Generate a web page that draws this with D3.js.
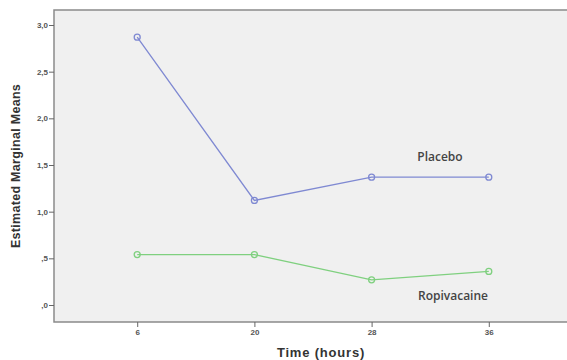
<!DOCTYPE html>
<html>
<head>
<meta charset="utf-8">
<script src="https://cdn.jsdelivr.net/npm/d3@7"></script>
<style>
body { margin: 0; background: #fff; }
.axis text { font-family: "Liberation Sans", Arial, sans-serif; font-size: 8px; font-weight: bold; fill: #555; }
.axis path, .axis line { stroke: #666; }
</style>
</head>
<body>
<script>
// data
let times = ['6', '20', '28', '36'];
let placebo = [2.87, 1.12, 1.37, 1.37];
let ropivacaine = [0.54, 0.54, 0.27, 0.36];
let yTicks = [0, 0.5, 1.0, 1.5, 2.0, 2.5, 3.0];
let seriesNames = ['Placebo', 'Ropivacaine'];

let frame = { width: 567, height: 360 };
let plot = { left: 54, top: 10, right: 572, bottom: 322 };

let svg = d3.select('body')
	.append('svg')
	.attr('width', frame.width)
	.attr('height', frame.height);

let xScale = d3.scalePoint()
	.domain(times)
	.range([plot.left, plot.right])
	.padding(0.71);

let yScale = d3.scaleLinear()
	.domain([0, 3])
	.range([305, 25]);

// plot background
svg.append('rect')
	.attr('x', plot.left)
	.attr('y', plot.top)
	.attr('width', plot.right - plot.left)
	.attr('height', plot.bottom - plot.top)
	.attr('fill', '#f0f0f0')
	.attr('stroke', '#8a8a8a')
	.attr('stroke-width', 1.5);

let fmt = d => {
	let s = d3.format('.1f')(d).replace('.', ',');
	return s.startsWith('0') ? s.slice(1) : s;
};

let yAxis = d3.axisLeft(yScale)
	.tickValues(yTicks)
	.tickFormat(fmt)
	.tickSize(5)
	.tickPadding(1);

svg.append('g')
	.attr('class', 'axis')
	.attr('transform', `translate(${plot.left}, 0)`)
	.call(yAxis)
	.call(g => g.select('.domain').remove());

let xAxis = d3.axisBottom(xScale)
	.tickSize(5)
	.tickPadding(2);

svg.append('g')
	.attr('class', 'axis')
	.attr('transform', `translate(0, ${plot.bottom})`)
	.call(xAxis)
	.call(g => g.select('.domain').remove());

// lines and markers
let line = d3.line()
	.x((d, i) => xScale(times[i]))
	.y(d => yScale(d));

let series = [
	{ name: seriesNames[0], values: placebo, color: '#7f89d2', label: [440, 161] },
	{ name: seriesNames[1], values: ropivacaine, color: '#7fd07f', label: [453, 300] }
];

series.forEach(s => {
	svg.append('path')
		.datum(s.values)
		.attr('d', line)
		.attr('fill', 'none')
		.attr('stroke', s.color)
		.attr('stroke-width', 1.3);

	svg.selectAll('.pt-' + s.name)
		.data(s.values)
		.enter()
		.append('circle')
		.attr('cx', (d, i) => xScale(times[i]))
		.attr('cy', d => yScale(d))
		.attr('r', 3)
		.attr('fill', 'none')
		.attr('stroke', s.color)
		.attr('stroke-width', 1.3);

	svg.append('text')
		.attr('x', s.label[0])
		.attr('y', s.label[1])
		.attr('text-anchor', 'middle')
		.attr('font-family', '"Open Sans", sans-serif')
		.attr('font-size', 12)
		.attr('font-weight', 600)
		.attr('fill', '#444')
		.text(s.name);
});

// axis titles
svg.append('text')
	.attr('transform', 'translate(20, 166) rotate(-90)')
	.attr('text-anchor', 'middle')
	.attr('font-family', '"Liberation Sans", Arial, sans-serif')
	.attr('font-size', 12.5)
	.attr('font-weight', 'bold')
	.attr('letter-spacing', 0.3)
	.attr('fill', '#333')
	.text('Estimated Marginal Means');

svg.append('text')
	.attr('x', 321)
	.attr('y', 357)
	.attr('text-anchor', 'middle')
	.attr('font-family', '"Liberation Sans", Arial, sans-serif')
	.attr('font-size', 13)
	.attr('font-weight', 'bold')
	.attr('letter-spacing', 0.8)
	.attr('fill', '#333')
	.text('Time (hours)');
</script>
</body>
</html>
